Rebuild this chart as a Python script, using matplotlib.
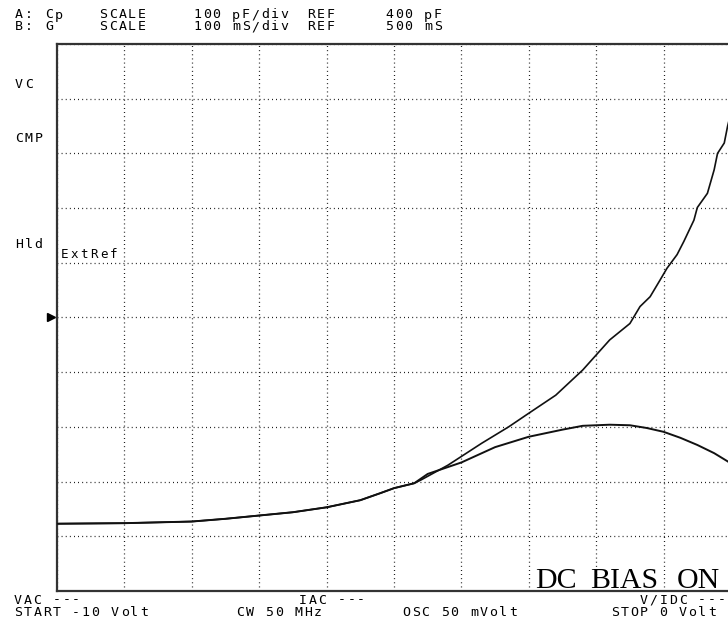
import matplotlib
matplotlib.use("Agg")
import matplotlib.pyplot as plt
import matplotlib.transforms as mtransforms
import numpy as np

W, H = 728, 626

# trace A: Cp (pF) vs DC bias (V)
bias_a = [-10, -9, -8, -7.5, -7, -6.5, -6, -5.5, -5.2, -5, -4.7, -4.6, -4.2, -4,
          -3.7, -3.3, -3, -2.6, -2.2, -1.8, -1.5, -1.35, -1.2, -1.05, -0.95, -0.8,
          -0.7, -0.55, -0.5, -0.35, -0.25, -0.2, -0.1, -0.05, 0]
cp_pf = [23, 24, 27, 32, 38, 44, 53, 66, 79, 88, 97, 103, 130, 146,
         170, 200, 225, 258, 304, 359, 389, 420, 438, 469, 490, 515,
         539, 578, 601, 627, 670, 700, 719, 750, 775]

# trace B: G (mS) vs DC bias (V)
bias_b = [-10, -9, -8, -7.5, -7, -6.5, -6, -5.5, -5.2, -5, -4.7, -4.5, -4, -3.5,
          -3, -2.5, -2.2, -1.8, -1.5, -1.25, -1, -0.75, -0.5, -0.25, -0.05, 0]
g_ms = [123, 124, 127, 132, 138, 144, 153, 166, 179, 188, 197, 214, 235, 263,
        282, 295, 302, 304, 303, 298, 291, 280, 267, 252, 237, 233]

# scale settings shown in the header
scale_a, ref_a = 100, 400   # pF/div, pF
scale_b, ref_b = 100, 500   # mS/div, mS
n_div = 10

fig = plt.figure(figsize=(W / 100, H / 100), dpi=100)
ax = fig.add_axes([57 / W, 1 - 591 / H, (731 - 57) / W, (591 - 44) / H])
ax2 = ax.twinx()

ax.set_xlim(-10, 0)
ax.set_ylim(ref_a - scale_a * n_div / 2, ref_a + scale_a * n_div / 2)
ax2.set_ylim(ref_b - scale_b * n_div / 2, ref_b + scale_b * n_div / 2)

ax.set_xticks(np.arange(-10, 1, 1))
ax.set_yticks(np.arange(ref_a - 500, ref_a + 501, scale_a))
ax.grid(True, color="black", linestyle=(0, (0.7, 2.6)), linewidth=0.9)
ax.tick_params(length=0, labelleft=False, labelbottom=False)
ax2.axis("off")
for side in ["left", "top", "bottom"]:
    ax.spines[side].set_color("#333333")
    ax.spines[side].set_linewidth(1.6)
ax.spines["right"].set_visible(False)

ax.plot(bias_a, cp_pf, color="#111111", linewidth=1.2)
ax2.plot(bias_b, g_ms, color="#111111", linewidth=1.4)

# reference marker
trans = mtransforms.blended_transform_factory(fig.transFigure, ax.transData)
ax.plot([51 / W], [ref_a], marker=">", color="black", markersize=6,
        transform=trans, clip_on=False)

CW = 9.7  # character pitch of the instrument font, px


def put(x, y, s, size=9.5):
    # monospaced screen text, one character per cell
    for i, ch in enumerate(s):
        if ch != " ":
            fig.text((x + i * CW) / W, 1 - y / H, ch, va="center", ha="left",
                     family="DejaVu Sans Mono", fontsize=size)


# header
for x, s in [(15, "A:"), (45, "Cp"), (99, "SCALE"), (193, "100"), (232, "pF/div"),
             (307, "REF"), (385, "400"), (424, "pF")]:
    put(x, 15, s)
for x, s in [(15, "B:"), (45, "G"), (99, "SCALE"), (193, "100"), (232, "mS/div"),
             (307, "REF"), (385, "500"), (424, "mS")]:
    put(x, 27, s)

# left status labels
put(15, 84, "VC")
put(15, 138, "CMP")
put(15, 244, "Hld")
put(61, 254, "ExtRef", size=9)

# footer
put(14, 600, "VAC ---")
put(14, 613, "START -10 Volt")
put(299, 600, "IAC ---")
put(236, 613, "CW 50 MHz")
put(402, 613, "OSC 50 mVolt")
put(640, 600, "V/IDC ---")
put(611, 613, "STOP 0 Volt")

for x, s in [(535, "DC"), (590, "BIAS"), (677, "ON")]:
    fig.text(x / W, 1 - 588 / H, s, family="Liberation Serif",
             fontsize=21.5, va="baseline", ha="left")

fig.savefig("out.png", dpi=100, facecolor="white")
